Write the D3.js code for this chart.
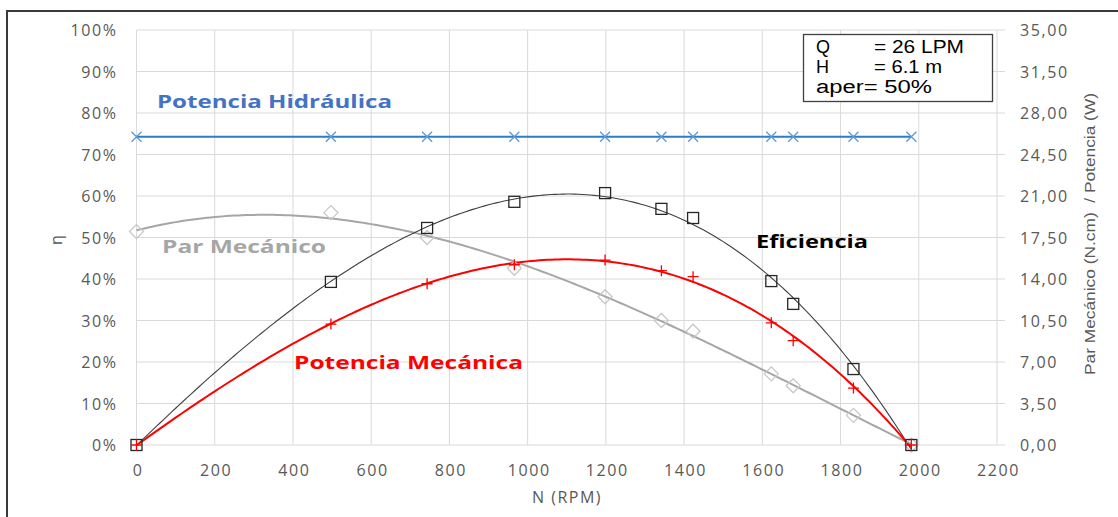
<!DOCTYPE html>
<html><head><meta charset="utf-8">
<script src="https://cdn.jsdelivr.net/npm/d3@7"></script>
<style>
html,body{margin:0;padding:0;background:#fff;}
svg{display:block;font-family:"Open Sans","Liberation Sans",sans-serif;}
</style></head>
<body><svg id="chart" width="1118" height="517"></svg>
<script>
// ---- data ----
const rpm = [0, 497, 743, 966, 1198, 1342, 1423, 1623, 1679, 1833, 1981];
const eficiencia = [0, 39.3, 52.3, 58.6, 60.7, 56.9, 54.7, 39.5, 34.0, 18.3, 0];       // %
const potenciaMecanica = [0, 10.2, 13.6, 15.2, 15.6, 14.7, 14.2, 10.3, 8.8, 4.8, 0];  // W
const parMecanico = [18.0, 19.6, 17.5, 14.9, 12.5, 10.5, 9.6, 6.0, 5.0, 2.5, 0];      // N.cm
const potenciaHidraulica = [26, 26, 26, 26, 26, 26, 26, 26, 26, 26, 26];              // W
const xTicks = [0, 200, 400, 600, 800, 1000, 1200, 1400, 1600, 1800, 2000, 2200];
const leftTicks = [0, 10, 20, 30, 40, 50, 60, 70, 80, 90, 100];
const rightTicks = [0, 3.5, 7, 10.5, 14, 17.5, 21, 24.5, 28, 31.5, 35];
const infoKeys = ["Q", "H", "aper"];
const infoValues = ["= 26 LPM", "= 6.1 m", "= 50%"];

// ---- layout ----
const svg = d3.select("#chart");
const L = 136.5, R = 997, T = 30, B = 445;
const x = d3.scaleLinear().domain([0, 2200]).range([L, R]);
const yL = d3.scaleLinear().domain([0, 100]).range([B, T]);
const yR = d3.scaleLinear().domain([0, 35]).range([B, T]);

// outer frame
svg.append("rect").attr("x", 7).attr("y", 11).attr("width", 1125).attr("height", 520)
  .attr("fill", "none").attr("stroke", "#3a3a3a").attr("stroke-width", 2);

// gridlines
const g = svg.append("g");
g.selectAll(".hg").data(leftTicks).join("line")
  .attr("x1", L).attr("x2", R + 8).attr("y1", d => yL(d)).attr("y2", d => yL(d))
  .attr("stroke", "#d9d9d9").attr("stroke-width", 1);
g.selectAll(".vg").data(xTicks).join("line")
  .attr("x1", d => x(d)).attr("x2", d => x(d)).attr("y1", T).attr("y2", B)
  .attr("stroke", "#d9d9d9").attr("stroke-width", 1);

// axes (text via d3 axes, domain hidden)
const fmtR = d => d3.format(".2f")(d).replace(".", ",");
const axL = svg.append("g").attr("transform", `translate(${L - 19},0)`)
  .call(d3.axisLeft(yL).tickValues(leftTicks).tickFormat(d => d + "%").tickSize(0).tickPadding(0));
const axR = svg.append("g").attr("transform", `translate(${R + 23},0)`)
  .call(d3.axisRight(yR).tickValues(rightTicks).tickFormat(fmtR).tickSize(0).tickPadding(0));
const axB = svg.append("g").attr("transform", `translate(1,${B + 12})`)
  .call(d3.axisBottom(x).tickValues(xTicks).tickFormat(d3.format("d")).tickSize(0).tickPadding(8));
[axL, axR, axB].forEach(a => {
  a.select(".domain").remove();
  a.selectAll("text").attr("fill", "#595959").style("font-size", "16px")
    .style("letter-spacing", "1.6px")
    .style("font-family", "'Open Sans',sans-serif");
});
axL.selectAll("text").attr("dy", "0.35em");
axR.selectAll("text").attr("dy", "0.35em");

// axis titles
svg.append("text").attr("x", 567).attr("y", 503).attr("text-anchor", "middle")
  .attr("fill", "#595959").style("font-size", "16px").style("letter-spacing", "1.5px").text("N (RPM)");
svg.append("text").attr("transform", "translate(62,240) rotate(-90)").attr("text-anchor", "middle")
  .attr("fill", "#595959").style("font-size", "16px").text("η");
svg.append("text").attr("transform", "translate(1095,234) rotate(-90)").attr("text-anchor", "middle")
  .attr("fill", "#595959").style("font-size", "14px").style("white-space", "pre")
  .style("font-family", "'Liberation Sans Narrow','Liberation Sans',sans-serif")
  .attr("textLength", 282).attr("lengthAdjust", "spacingAndGlyphs")
  .text("Par Mecánico (N.cm)  / Potencia (W)");

// ---- polynomial trendline (least squares, like a spreadsheet trendline) ----
function polyfit(xs, ys, order) {
  const n = order + 1, s = 1000;
  const A = Array.from({length: n}, () => new Array(n + 1).fill(0));
  xs.forEach((xv, k) => {
    const u = xv / s;
    for (let i = 0; i < n; i++) {
      for (let j = 0; j < n; j++) A[i][j] += Math.pow(u, i + j);
      A[i][n] += ys[k] * Math.pow(u, i);
    }
  });
  for (let i = 0; i < n; i++) {
    let p = i; for (let r = i + 1; r < n; r++) if (Math.abs(A[r][i]) > Math.abs(A[p][i])) p = r;
    [A[i], A[p]] = [A[p], A[i]];
    for (let r = 0; r < n; r++) if (r !== i) {
      const f = A[r][i] / A[i][i];
      for (let c = i; c <= n; c++) A[r][c] -= f * A[i][c];
    }
  }
  const coef = A.map((row, i) => row[n] / row[i]);
  return v => coef.reduce((acc, c, i) => acc + c * Math.pow(v / s, i), 0);
}
function trend(ys, order, yScale, color, width) {
  const f = polyfit(rpm, ys, order);
  const pts = d3.range(0, 1981 + 1, 10).map(v => [v, f(v)]);
  svg.append("path").datum(pts)
    .attr("d", d3.line().x(d => x(d[0])).y(d => yScale(d[1])).curve(d3.curveLinear))
    .attr("fill", "none").attr("stroke", color).attr("stroke-width", width);
}

trend(parMecanico, 3, yR, "#a6a6a6", 2);
trend(eficiencia, 3, yL, "#404040", 1.1);
trend(potenciaMecanica, 3, yR, "#ff0000", 2);

// hydraulic power line
svg.append("path").datum(rpm.map((r, i) => [r, potenciaHidraulica[i]]))
  .attr("d", d3.line().x(d => x(d[0])).y(d => yR(d[1])))
  .attr("fill", "none").attr("stroke", "#2e7cc6").attr("stroke-width", 2);

// markers
const hx = svg.append("g");
rpm.forEach((r, i) => {
  const cx = x(r), cy = yR(potenciaHidraulica[i]), s = 5;
  hx.append("path").attr("d", `M${cx - s},${cy - s}L${cx + s},${cy + s}M${cx - s},${cy + s}L${cx + s},${cy - s}`)
    .attr("stroke", "#5b9bd5").attr("stroke-width", 1.3).attr("fill", "none");
});
svg.append("g").selectAll("path").data(rpm.map((r, i) => [r, parMecanico[i]])).join("path")
  .attr("d", d => { const cx = x(d[0]), cy = yR(d[1]), s = 7; return `M${cx - s},${cy}L${cx},${cy - s}L${cx + s},${cy}L${cx},${cy + s}Z`; })
  .attr("fill", "none").attr("stroke", "#c8c8c8").attr("stroke-width", 1.3);
svg.append("g").selectAll("rect").data(rpm.map((r, i) => [r, eficiencia[i]])).join("rect")
  .attr("x", d => x(d[0]) - 5.5).attr("y", d => yL(d[1]) - 5.5).attr("width", 11).attr("height", 11)
  .attr("fill", "none").attr("stroke", "#262626").attr("stroke-width", 1.3);
svg.append("g").selectAll("path").data(rpm.map((r, i) => [r, potenciaMecanica[i]])).join("path")
  .attr("d", d => { const cx = x(d[0]), cy = yR(d[1]), s = 5.5; return `M${cx - s},${cy}L${cx + s},${cy}M${cx},${cy - s}L${cx},${cy + s}`; })
  .attr("fill", "none").attr("stroke", "#ff0000").attr("stroke-width", 1.3);

// series labels
function label(t, xx, yy, w, color) {
  svg.append("text").attr("x", xx).attr("y", yy).attr("fill", color)
    .style("font-size", "18px").style("font-weight", "bold")
    .attr("textLength", w).attr("lengthAdjust", "spacingAndGlyphs").text(t);
}
label("Potencia Hidráulica", 157, 108, 235, "#4472c4");
label("Par Mecánico", 162, 253, 164, "#a6a6a6");
label("Eficiencia", 756, 248, 112, "#000000");
label("Potencia Mecánica", 294, 369, 229, "#ff0000");

// info box
svg.append("rect").attr("x", 803.5).attr("y", 34.5).attr("width", 189).attr("height", 67)
  .attr("fill", "#fff").attr("stroke", "#404040").attr("stroke-width", 1.3);
const info = svg.append("g").style("font-family", "'Liberation Sans',sans-serif").style("font-size", "18px");
infoKeys.forEach((k, i) => {
  const yy = 53 + i * 20;
  if (k === "aper") {
    info.append("text").attr("x", 816).attr("y", yy).attr("fill", "#000")
      .attr("textLength", 116).attr("lengthAdjust", "spacingAndGlyphs").text(k + infoValues[i]);
  } else {
    info.append("text").attr("x", 816).attr("y", yy).attr("fill", "#000").text(k);
    info.append("text").attr("x", 874).attr("y", yy).attr("fill", "#000")
      .attr("textLength", i === 0 ? 90 : 68).attr("lengthAdjust", "spacingAndGlyphs").text(infoValues[i]);
  }
});
</script>
</body></html>
